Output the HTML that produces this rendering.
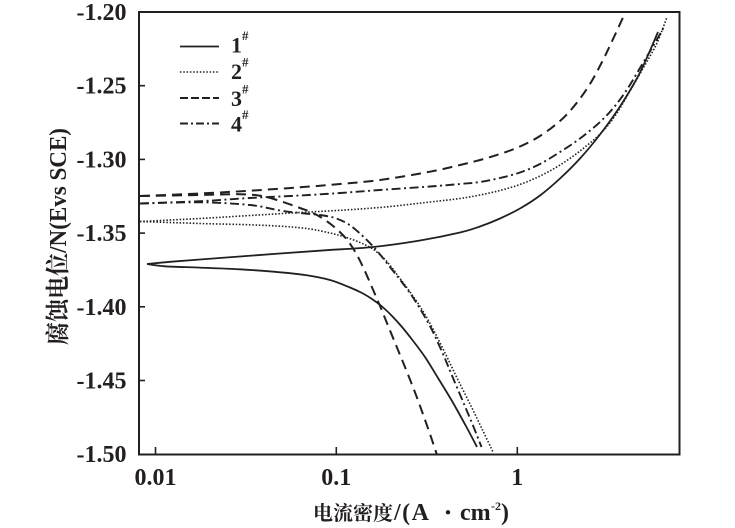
<!DOCTYPE html>
<html>
<head>
<meta charset="utf-8">
<style>
  html, body { margin: 0; padding: 0; background: #ffffff; }
  body { width: 735px; height: 528px; overflow: hidden; }
  svg { display: block; }
  .tick { font-family: "Liberation Serif", serif; font-weight: bold; font-size: 24px; fill: #231f20; }
  .leg { font-family: "Liberation Serif", serif; font-weight: bold; font-size: 22px; fill: #231f20; }
  .sup { font-family: "Liberation Serif", serif; font-weight: bold; font-size: 13px; fill: #231f20; }
  .cjk { font-family: "Liberation Serif", "Noto Serif CJK SC", "Noto Sans CJK SC", serif; font-weight: bold; fill: #231f20; }
  .c { fill: none; stroke: #231f20; stroke-linejoin: round; }
</style>
</head>
<body>
<svg width="735" height="528" viewBox="0 0 735 528" xmlns="http://www.w3.org/2000/svg">
  <defs>
    <clipPath id="plot">
      <rect x="139" y="12" width="541" height="443"/>
    </clipPath>
  </defs>
  <rect x="0" y="0" width="735" height="528" fill="#ffffff"/>

  <g clip-path="url(#plot)">
    <!-- 1# solid -->
    <path class="c sm" stroke-width="1.8"
      d="M147,264 L170,261.8 L200,259.5 L240,256.5 L280,253.5 L325,250.3 L373,247 L420,240.5 L460,232.5 L480,226.5 L500,218.5 L520,208.5 L540,195.5 L560,178.5 L580,158.5 L600,134.5 L620,106.5 L640,72.5 L658,32"/>
    <path class="c sm" stroke-width="1.8"
      d="M147,264 L165,266.3 L200,267.6 L240,269.3 L275,271.8 L305,275 L330,280 L350,287.5 L362,293 L372,299 L382,306.5 L392,316 L402,327 L412,339.5 L425,357 L438,378 L452,401 L467,428 L477,447"/>

    <!-- 2# dotted -->
    <path class="c sm" stroke-width="1.6" stroke-dasharray="1.5 1.8"
      d="M140,221.5 L200,218.5 L250,215.5 L300,212.5 L345,210 L385,207 L430,202 L460,198.5 L480,195 L500,190.5 L520,184.5 L540,176 L560,165 L580,151 L600,134 L615,116 L630,91 L645,65 L657,43 L667,17"/>
    <path class="c sm" stroke-width="1.6" stroke-dasharray="1.5 1.8"
      d="M140,221.5 L200,223.5 L250,224.8 L285,226.5 L310,229 L330,233 L345,237 L360,242.5 L372,248.5 L382,256.5 L391,266.5 L400,278.5 L410,292 L421,308 L433,329 L446,355 L458,380 L471,406 L483,431 L493,452"/>

    <!-- 3# dashed -->
    <path class="c sm" stroke-width="2" stroke-dasharray="10 6"
      d="M140,196 L200,193.5 L250,190.7 L300,187.3 L340,184 L380,180 L430,171.7 L460,165 L480,160 L500,154 L520,146.5 L540,136 L560,121 L575,105 L590,84 L603,60 L614,37 L626,11"/>
    <path class="c sm" stroke-width="2" stroke-dasharray="10 6"
      d="M140,196 L200,195 L240,194.2 L262,196 L280,201 L300,208 L313,213 L325,220 L336,228.5 L346,238.5 L355,251.5 L363,267 L371,285 L380,306 L389,328 L398,350 L407,372 L416,395 L424,417 L431,437 L437,455"/>

    <!-- 4# dash-dot -->
    <path class="c sm" stroke-width="1.9" stroke-dasharray="9 3.5 2 3.5"
      d="M140,203.5 L200,201.2 L250,198 L300,195.5 L340,193 L380,190 L430,186.5 L460,184 L480,182 L500,178 L520,172.5 L540,164 L560,152 L580,138.5 L600,122 L615,106 L628,88 L640,68 L652,48 L664,27"/>
    <path class="c sm" stroke-width="1.9" stroke-dasharray="9 3.5 2 3.5"
      d="M140,203.5 L200,202.3 L250,205 L280,210.5 L300,213 L320,215 L335,218 L348,224 L360,233.5 L375,248.5 L390,267 L401,281 L412,296 L422,312 L432,330 L443,354 L453,378 L464,404 L474,428 L481.5,447"/>
  </g>

  <rect x="139" y="12" width="540.5" height="442.5" fill="none" stroke="#231f20" stroke-width="2"/>

  <g stroke="#231f20" stroke-width="1.6">
    <line x1="139" y1="85.7" x2="145" y2="85.7"/>
    <line x1="139" y1="159.4" x2="145" y2="159.4"/>
    <line x1="139" y1="233.1" x2="145" y2="233.1"/>
    <line x1="139" y1="306.8" x2="145" y2="306.8"/>
    <line x1="139" y1="380.5" x2="145" y2="380.5"/>
    <line x1="155.5" y1="454.5" x2="155.5" y2="447"/>
    <line x1="336.3" y1="454.5" x2="336.3" y2="447"/>
    <line x1="517.3" y1="454.5" x2="517.3" y2="447"/>
  </g>

  <g class="tick" text-anchor="end">
    <text x="126.5" y="20">-1.20</text>
    <text x="126.5" y="93.7">-1.25</text>
    <text x="126.5" y="167.4">-1.30</text>
    <text x="126.5" y="241.1">-1.35</text>
    <text x="126.5" y="314.8">-1.40</text>
    <text x="126.5" y="388.5">-1.45</text>
    <text x="126.5" y="462.2">-1.50</text>
  </g>

  <g class="tick" text-anchor="middle">
    <text x="155.5" y="485">0.01</text>
    <text x="336.3" y="485">0.1</text>
    <text x="517.3" y="485">1</text>
  </g>

  <g>
    <line x1="180" y1="46.5" x2="219" y2="46.5" stroke="#231f20" stroke-width="1.8"/>
    <line x1="180" y1="72" x2="219" y2="72" stroke="#231f20" stroke-width="1.6" stroke-dasharray="1.5 1.8"/>
    <line x1="180" y1="98" x2="219" y2="98" stroke="#231f20" stroke-width="2" stroke-dasharray="8 3"/>
    <line x1="180" y1="123.5" x2="219" y2="123.5" stroke="#231f20" stroke-width="1.9" stroke-dasharray="8 3 2 3"/>
    <text class="leg" x="231" y="52.5">1</text><text class="sup" x="242" y="40">#</text>
    <text class="leg" x="231" y="79">2</text><text class="sup" x="242" y="66.5">#</text>
    <text class="leg" x="231" y="106">3</text><text class="sup" x="242" y="93.5">#</text>
    <text class="leg" x="231" y="131.5">4</text><text class="sup" x="242" y="119">#</text>
  </g>

  <text class="cjk" x="313" y="520" font-size="20" textLength="80" lengthAdjust="spacingAndGlyphs">电流密度</text>
  <text class="tick" x="394" y="520" style="letter-spacing:1.5px">/(A</text>
  <text class="cjk" x="448" y="520" font-size="20" text-anchor="middle">・</text>
  <text class="tick" x="460" y="520">cm</text>
  <text class="sup" x="491" y="510" style="font-size:12px">-2</text>
  <text class="tick" x="501" y="520">)</text>

  <text class="cjk" transform="translate(66,345) rotate(-90)" font-size="24" textLength="217" lengthAdjust="spacingAndGlyphs">腐蚀电位<tspan style="font-family:'Liberation Serif',serif;">/N(Evs SCE)</tspan></text>
</svg>
<script>
(function(){
  var paths = document.querySelectorAll('path.sm');
  for (var k = 0; k < paths.length; k++) {
    var p = paths[k];
    var nums = p.getAttribute('d').match(/-?\d+(\.\d+)?/g).map(Number);
    var pts = [];
    for (var i = 0; i + 1 < nums.length; i += 2) pts.push([nums[i], nums[i+1]]);
    if (pts.length < 3) continue;
    var d = 'M' + pts[0][0] + ',' + pts[0][1];
    for (var i = 0; i < pts.length - 1; i++) {
      var p0 = pts[i > 0 ? i - 1 : i];
      var p1 = pts[i];
      var p2 = pts[i + 1];
      var p3 = pts[i + 2 < pts.length ? i + 2 : i + 1];
      var c1x = p1[0] + (p2[0] - p0[0]) / 6, c1y = p1[1] + (p2[1] - p0[1]) / 6;
      var c2x = p2[0] - (p3[0] - p1[0]) / 6, c2y = p2[1] - (p3[1] - p1[1]) / 6;
      d += ' C' + c1x.toFixed(2) + ',' + c1y.toFixed(2) + ' ' + c2x.toFixed(2) + ',' + c2y.toFixed(2) + ' ' + p2[0] + ',' + p2[1];
    }
    p.setAttribute('d', d);
  }
})();
</script>
</body>
</html>
